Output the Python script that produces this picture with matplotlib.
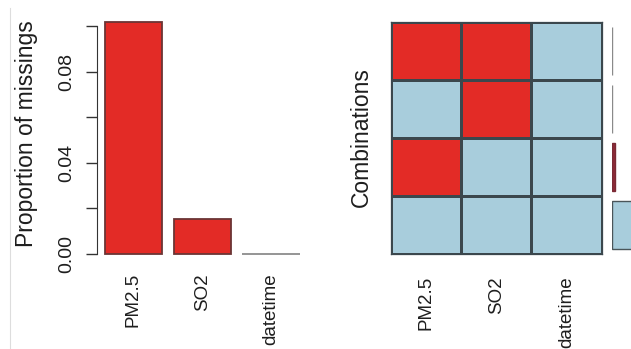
import matplotlib
matplotlib.use("Agg")
import matplotlib.pyplot as plt
import numpy as np
from matplotlib.colors import ListedColormap
from matplotlib.lines import Line2D

plt.rcParams['font.family'] = ['Liberation Sans', 'DejaVu Sans']

# --- data -------------------------------------------------------------
variables = ["PM2.5", "SO2", "datetime"]
prop_missing = [0.1018, 0.0153, 0.0]

# missingness pattern of each combination, top row first (1 = missing)
combo_patterns = [
    [1, 1, 0],
    [0, 1, 0],
    [1, 0, 0],
    [0, 0, 0],
]
combo_props = [0.002, 0.0133, 0.0998, 0.8849]

y_ticks = [0.00, 0.02, 0.04, 0.06, 0.08, 0.10]
y_tick_labels = ["0.00", "", "0.04", "", "0.08", ""]

# --- style --------------------------------------------------------------
RED = "#E32B26"
BLUE = "#A8CDDC"
GRID = "#3b474d"
TEXT = "#1e1e1e"
W, H = 631, 349

fig = plt.figure(figsize=(W / 100, H / 100), dpi=100)


def px_axes(x0, y0, x1, y1):
    """Axes placed by pixel box (top-left origin)."""
    return fig.add_axes([x0 / W, 1 - y1 / H, (x1 - x0) / W, (y1 - y0) / H])


# --- left: proportion of missings ---------------------------------------
ax1 = px_axes(97, 12.3, 307.5, 263.1)
lefts = 0.2 + 1.2 * np.arange(len(variables))
centers = lefts + 0.5
ax1.bar(centers, prop_missing, width=1.0, color=RED,
        edgecolor=["#6b3535", "#6b3535", "#8c8c8c"], linewidth=1.3)
ax1.set_xlim(0.064, 3.736)
ax1.set_ylim(-0.004, 0.106)
for s in ("top", "right", "bottom"):
    ax1.spines[s].set_visible(False)
ax1.spines["left"].set_bounds(0, 0.10)
ax1.spines["left"].set_color("#333333")
ax1.set_yticks(y_ticks)
ax1.set_yticklabels(y_tick_labels, rotation=90, va="center", fontsize=14)
ax1.tick_params(axis="y", length=8, width=1, color="#333333", pad=8,
                labelcolor=TEXT)
ax1.set_xticks(centers)
ax1.set_xticklabels(variables, rotation=90, va="top", fontsize=13.5,
                    color=TEXT)
ax1.tick_params(axis="x", length=0, pad=7.3)
fig.text(27 / W, 1 - 134 / H, "Proportion of missings", rotation=90,
         ha="center", va="center", fontsize=16.5, color=TEXT)

# --- middle: combination grid -------------------------------------------
ax2 = px_axes(390.7, 22, 601.7, 254)
grid = np.array(combo_patterns)[::-1]
ax2.pcolormesh(np.arange(4), np.arange(5), grid,
               cmap=ListedColormap([BLUE, RED]), vmin=0, vmax=1,
               edgecolors=GRID, linewidth=0.9)
ax2.set_xlim(0, 3)
ax2.set_ylim(0, 4)
for s in ax2.spines.values():
    s.set_color(GRID)
    s.set_linewidth(0.9)
ax2.set_yticks([])
ax2.set_xticks(np.arange(3) + 0.5)
ax2.set_xticklabels(variables, rotation=90, va="top", fontsize=13.5,
                    color=TEXT)
ax2.tick_params(axis="x", length=0, pad=15.8)
fig.text(361.7 / W, 1 - 137 / H, "Combinations", rotation=90,
         ha="center", va="center", fontsize=16.5, color=TEXT)

# --- right: combination frequencies --------------------------------------
ax3 = px_axes(612, 22, 642, 254)
rows = np.arange(len(combo_props))[::-1] + 0.5
ax3.barh(rows, combo_props, height=0.83,
         color=["#8a8a8a", "#8a8a8a", "#8E2A38", BLUE],
         edgecolor=["#8a8a8a", "#8a8a8a", "#7a2a35", "#4a5559"],
         linewidth=1.0)
ax3.set_xlim(0, 1)
ax3.set_ylim(0, 4)
ax3.axis("off")

# thin frame line at the left edge
fig.add_artist(Line2D([10 / W, 10 / W], [0, 1 - 8 / H], color="#dddddd",
                      lw=0.8, transform=fig.transFigure))

fig.savefig("out.png", dpi=100)
